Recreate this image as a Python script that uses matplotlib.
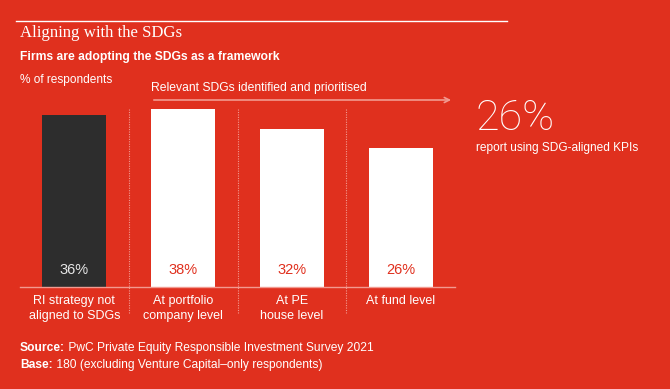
import matplotlib
matplotlib.use("Agg")
import matplotlib.pyplot as plt
from matplotlib.lines import Line2D

# data
categories = ["RI strategy not\naligned to SDGs", "At portfolio\ncompany level",
              "At PE\nhouse level", "At fund level"]
values = [36, 38, 32, 26]
kpi_share = 26

RED = "#E0301E"
DARK = "#2D2D2D"
PINK = "#F29A90"
W, H = 670, 389


def fx(px):
    return px / W


def fy(py):
    # pixel from the top -> figure fraction
    return 1 - py / H


fig = plt.figure(figsize=(W / 100, H / 100), dpi=100, facecolor=RED)
plt.rcParams["font.family"] = ["Liberation Sans", "DejaVu Sans"]

# axes: baseline at 287 px, 3.3 px per percentage point, base at -16
base = -16
k = 3.3
ax_top, ax_bot = 95, 287
ax = fig.add_axes([fx(20), fy(ax_bot), fx(455 - 20), (ax_bot - ax_top) / H])
ax.set_facecolor("none")
ax.set_xlim(-0.5, 3.5)
ax.set_ylim(base, base + (ax_bot - ax_top) / k)

x = list(range(len(values)))
colors = [DARK] + ["white"] * (len(values) - 1)
ax.bar(x, [v - base for v in values], bottom=base, width=0.59, color=colors, zorder=2)

for i, v in enumerate(values):
    ax.text(i, base + 17 / k, f"{v}%", ha="center", va="center", fontsize=10.5,
            color="#E6E6E6" if i == 0 else RED, zorder=3)

# dotted separators
ax.vlines([0.5, 1.5, 2.5], base - 26 / k, base + 178 / k, colors=PINK,
          linestyles=(0, (1, 1.2)), linewidth=0.8, clip_on=False)

# arrow over the SDG-aligned bars
arrow_y = base + 187 / k
ax.annotate("", xy=(3.49, arrow_y), xytext=(0.705, arrow_y),
            arrowprops=dict(arrowstyle="->", color=PINK, lw=1.2, mutation_scale=9),
            annotation_clip=False)
ax.text(0.705, base + 199 / k, "Relevant SDGs identified and prioritised",
        ha="left", va="center", fontsize=8.7, color="white")

for s in ["top", "right", "left"]:
    ax.spines[s].set_visible(False)
ax.spines["bottom"].set_color(PINK)
ax.spines["bottom"].set_linewidth(1)
ax.set_yticks([])
ax.set_xticks(x)
ax.set_xticklabels(categories, color="white", fontsize=9, linespacing=1.25)
ax.tick_params(axis="x", length=0, pad=6)

# header
fig.add_artist(Line2D([fx(16), fx(507)], [fy(20.5), fy(20.5)], color="white", lw=1))
fig.text(fx(20), fy(33), "Aligning with the SDGs", family=["Liberation Serif", "DejaVu Serif"],
         fontsize=12.1, color="white", ha="left", va="center")
fig.text(fx(20), fy(57), "Firms are adopting the SDGs as a framework", fontsize=8.7,
         weight="bold", color="white", ha="left", va="center")
fig.text(fx(20), fy(80), "% of respondents", fontsize=8.6, color="white", ha="left", va="center")

# side callout
fig.text(fx(475), fy(119), f"{kpi_share}%", fontsize=31, color="white", ha="left",
         va="center", family=["Roboto", "Liberation Sans"], weight="light")
fig.text(fx(476), fy(148), "report using SDG-aligned KPIs", fontsize=8.6, color="white",
         ha="left", va="center")

# footer: bold prefix followed by regular text
footer = [("Source:", " PwC Private Equity Responsible Investment Survey 2021", 351),
          ("Base:", " 180 (excluding Venture Capital–only respondents)", 368)]
renderer = fig.canvas.get_renderer()
for head, rest, py in footer:
    t = fig.text(fx(20), fy(py), head, fontsize=8.65, weight="bold", color="white",
                 ha="left", va="baseline")
    x1 = t.get_window_extent(renderer).x1
    fig.text(x1 / W, fy(py), rest, fontsize=8.65, color="white", ha="left", va="baseline")

fig.savefig("out.png", dpi=100, facecolor=RED)
